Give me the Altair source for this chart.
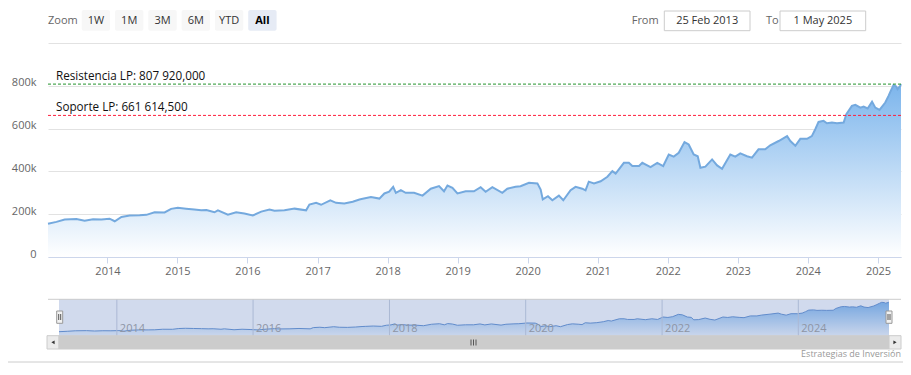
import altair as alt
import pandas as pd

# ---------------- data ----------------
DATES = [
    "2013-02-25", "2013-04-10", "2013-05-23", "2013-07-23", "2013-09-04", "2013-10-18", "2013-11-30",
    "2014-01-12", "2014-02-08", "2014-03-15", "2014-04-27", "2014-06-18", "2014-07-23", "2014-09-04",
    "2014-10-26", "2014-11-29", "2015-01-03", "2015-02-15", "2015-03-30", "2015-05-05", "2015-06-01",
    "2015-07-13", "2015-07-31", "2015-09-21", "2015-11-03", "2015-12-16", "2016-01-29", "2016-03-13",
    "2016-04-25", "2016-05-21", "2016-07-12", "2016-09-03", "2016-11-02", "2016-11-19", "2016-12-24",
    "2017-01-19", "2017-03-08", "2017-04-07", "2017-05-20", "2017-07-03", "2017-08-07", "2017-08-24",
    "2017-10-06", "2017-11-19", "2017-12-15", "2018-01-09", "2018-01-30", "2018-02-13", "2018-03-11",
    "2018-04-05", "2018-05-19", "2018-07-02", "2018-08-14", "2018-09-26", "2018-10-22", "2018-11-09",
    "2018-12-05", "2018-12-31", "2019-02-12", "2019-03-27", "2019-05-01", "2019-05-27", "2019-07-01",
    "2019-08-22", "2019-09-17", "2019-10-30", "2019-11-25", "2020-01-08", "2020-02-21", "2020-03-09",
    "2020-03-20", "2020-04-16", "2020-05-09", "2020-06-12", "2020-07-05", "2020-08-12", "2020-09-07",
    "2020-10-12", "2020-10-29", "2020-11-15", "2020-12-12", "2021-01-16", "2021-02-20", "2021-03-18",
    "2021-04-04", "2021-05-17", "2021-06-12", "2021-06-30", "2021-08-04", "2021-08-21", "2021-10-03",
    "2021-11-07", "2021-12-08", "2022-01-06", "2022-02-01", "2022-02-27", "2022-03-29", "2022-04-20",
    "2022-05-16", "2022-06-06", "2022-06-20", "2022-07-16", "2022-08-20", "2022-09-15", "2022-10-11",
    "2022-11-23", "2022-12-19", "2023-01-14", "2023-02-18", "2023-03-16", "2023-04-19", "2023-05-24",
    "2023-06-19", "2023-08-02", "2023-09-15", "2023-10-02", "2023-10-28", "2023-11-23", "2023-12-28",
    "2024-01-22", "2024-02-09", "2024-02-26", "2024-03-23", "2024-04-10", "2024-05-06", "2024-06-01",
    "2024-07-06", "2024-07-20", "2024-08-18", "2024-09-05", "2024-10-01", "2024-10-18", "2024-11-08",
    "2024-12-01", "2024-12-18", "2025-01-09", "2025-02-08", "2025-02-25", "2025-03-11", "2025-03-23",
    "2025-04-06", "2025-04-13", "2025-04-27", "2025-05-01",
]
VALUES_K = [
    155, 164, 175, 178, 170, 176, 175,
    179, 167, 187, 194, 195, 197, 209,
    208, 225, 230, 226, 222, 218, 220,
    209, 218, 198, 209, 203, 194, 212,
    222, 216, 218, 226, 218, 245, 253,
    244, 265, 253, 250, 258, 269, 272,
    280, 273, 297, 305, 328, 300, 312,
    300, 300, 287, 319, 331, 307, 334,
    323, 297, 307, 307, 326, 305, 326,
    300, 319, 328, 331, 347, 344, 315,
    269, 284, 265, 287, 265, 312, 328,
    319, 311, 352, 344, 354, 375, 401,
    390, 440, 440, 425, 425, 440, 420,
    440, 425, 479, 469, 487, 537, 526,
    479, 471, 417, 422, 456, 428, 412,
    479, 469, 484, 471, 464, 503, 503,
    522, 542, 565, 542, 520, 552, 552,
    565, 597, 631, 636, 625, 628, 625,
    628, 667, 706, 711, 698, 703, 694,
    726, 698, 687, 722, 753, 781, 803,
    797, 784, 800, 808,
]

LEVEL_LABELS = ["Resistencia LP: 807 920,000", "Soporte LP: 661 614,500"]
LEVEL_VALUES = [807920, 661614.5]

Y_TICKS = [0, 200000, 400000, 600000, 800000, 1000000]
X_TICK_YEARS = list(range(2014, 2026))
NAV_YEARS = [2014, 2016, 2018, 2020, 2022, 2024]
BUTTONS = ["1W", "1M", "3M", "6M", "YTD", "All"]
HEADER_TEXTS = ["Zoom", "From", "To"]
INPUT_TEXTS = ["25 Feb 2013", "1 May 2025"]
CREDIT = "Estrategias de Inversión"

# ---------------- layout / style ----------------
W, H = 853, 214
FONT = "Open Sans"
LINE_COLOR = "#74a9de"
NAV_LINE = "#5f8fcf"
LEVEL_COLORS = ["#22922a", "#ff1f3d"]

df = pd.DataFrame({"date": DATES, "value": [v * 1000 for v in VALUES_K]})
levels = pd.DataFrame({"label": LEVEL_LABELS, "value": LEVEL_VALUES})

grad = alt.Gradient(
    gradient="linear",
    stops=[alt.GradientStop(color="#7cb5ec", offset=0),
           alt.GradientStop(color="#ffffff", offset=1)],
    x1=0, x2=0, y1=0, y2=1,
)

x_main = alt.X(
    "date:T", title=None,
    scale=alt.Scale(nice=False),
    axis=alt.Axis(
        values=[alt.DateTime(year=y, month=1, date=1, utc=True) for y in X_TICK_YEARS],
        labelExpr="utcFormat(datum.value, '%Y')",
        grid=False, domainColor="#ccd6eb", tickColor="#ccd6eb", tickSize=6,
        labelPadding=2, labelColor="#666666", labelFontSize=11, labelFont=FONT,
        labelFlush=False, labelOverlap=False,
    ),
)
y_main = alt.Y(
    "value:Q", title=None,
    scale=alt.Scale(domain=[0, 1000000], nice=False),
    axis=alt.Axis(
        values=Y_TICKS,
        labelExpr="datum.value == 0 ? '0' : (datum.value >= 1000000 ? '' : (datum.value/1000) + 'k')",
        grid=True, gridColor="#e2e2e2", domain=False, ticks=False, tickSize=0,
        labelPadding=12, labelBaseline="alphabetic", labelColor="#666666",
        labelFontSize=11, labelFont=FONT, labelFlush=False,
    ),
)

area = alt.Chart(df).mark_area(color=grad).encode(x=x_main, y=y_main)
line = alt.Chart(df).mark_line(color=LINE_COLOR, strokeWidth=2).encode(x=x_main, y=y_main)

rules = []
for i in range(2):
    d = levels.iloc[[i]]
    rules.append(
        alt.Chart(d).mark_rule(color=LEVEL_COLORS[i], strokeDash=[3, 2], strokeWidth=1)
        .encode(y=y_main, x=alt.value(0), x2=alt.value(W))
    )
    rules.append(
        alt.Chart(d).mark_text(align="left", baseline="alphabetic", dy=-4, font=FONT,
                               fontSize=11.7, color="#111111")
        .encode(y=y_main, x=alt.value(8), text="label:N")
    )

main = alt.layer(area, line, *rules)

# ---------------- navigator ----------------
nav_x = alt.X("date:T", scale=alt.Scale(nice=False, range=[11, 841]), axis=None)
nav_y = alt.Y("value:Q", scale=alt.Scale(domain=[60000, 876000], range=[293, 256], nice=False, zero=False), axis=None)
nav_years = pd.DataFrame({"date": [f"{y}-01-01" for y in NAV_YEARS], "label": [str(y) for y in NAV_YEARS]})

nav_area = alt.Chart(df).mark_area(color=grad).encode(x=nav_x, y=nav_y)
nav_line = alt.Chart(df).mark_line(color=NAV_LINE, strokeWidth=1).encode(x=nav_x, y=nav_y)
nav_grid = alt.Chart(nav_years).mark_rule(color="#c8cfdc", strokeWidth=1).encode(
    x=nav_x, y=alt.value(256), y2=alt.value(293))
nav_mask = alt.Chart(pd.DataFrame({"a": [0]})).mark_rect(color="#6685c2", opacity=0.3).encode(
    x=alt.value(11), x2=alt.value(841), y=alt.value(256), y2=alt.value(292.7))
nav_text = alt.Chart(nav_years).mark_text(align="left", baseline="middle", dx=3, font=FONT,
                                          fontSize=11, color="#8e95a5").encode(
    x=nav_x, y=alt.value(286), text="label:N")
nav = alt.layer(nav_area, nav_line, nav_grid, nav_mask, nav_text)

# ---------------- decorations (pixel positions) ----------------
def PX(f):
    return alt.X(f"{f}:Q", scale=None, axis=None)


def PY(f):
    return alt.Y(f"{f}:Q", scale=None, axis=None)


BTN_X1 = [33.7, 67.0, 100.3, 133.6, 166.9, 200.2]
btn = pd.DataFrame({"label": BUTTONS, "x1": BTN_X1})
btn["x2"] = btn["x1"] + 28.4
btn["xc"] = btn["x1"] + 14.2
btn["y1"] = -33.0
btn["y2"] = -12.3
btn["ty"] = -22.3
btn["fill"] = ["#f7f7f7"] * 5 + ["#e6ebf5"]

btn_rect = alt.Chart(btn).mark_rect(cornerRadius=2).encode(
    x=PX("x1"), x2="x2", y=PY("y1"), y2="y2", color=alt.Color("fill:N", scale=None, legend=None))
btn_txt = alt.Chart(btn[btn["label"] != "All"]).mark_text(
    align="center", baseline="middle", font=FONT, fontSize=11, color="#333333").encode(
    x=PX("xc"), y=PY("ty"), text="label:N")
btn_all = alt.Chart(btn[btn["label"] == "All"]).mark_text(
    align="center", baseline="middle", font=FONT, fontSize=11, fontWeight="bold", color="#000000").encode(
    x=PX("xc"), y=PY("ty"), text="label:N")

hdr = pd.DataFrame({"label": HEADER_TEXTS, "x": [0, 583.7, 718], "y": [-22.3] * 3})
hdr_txt = alt.Chart(hdr).mark_text(align="left", baseline="middle", font=FONT, fontSize=11,
                                   color="#666666").encode(x=PX("x"), y=PY("y"), text="label:N")

inp = pd.DataFrame({"label": INPUT_TEXTS, "x1": [616.3, 732.0], "x2": [702.0, 817.7]})
inp["xc"] = (inp["x1"] + inp["x2"]) / 2
inp["y1"] = -32.0
inp["y2"] = -12.3
inp["ty"] = -22.3
inp_rect = alt.Chart(inp).mark_rect(fill="#ffffff", stroke="#cccccc", strokeWidth=1).encode(
    x=PX("x1"), x2="x2", y=PY("y1"), y2="y2")
inp_txt = alt.Chart(inp).mark_text(align="center", baseline="middle", font=FONT, fontSize=11,
                                   color="#333333").encode(x=PX("xc"), y=PY("ty"), text="label:N")

scr = pd.DataFrame({"x1": [-1.0, 11.0, 841.0], "x2": [11.0, 841.0, 853.0],
                    "fill": ["#ebebeb", "#cccccc", "#ebebeb"]})
scr["y1"] = 292.7
scr["y2"] = 306.0
scr_rect = alt.Chart(scr).mark_rect(stroke="#cccccc", strokeWidth=1).encode(
    x=PX("x1"), x2="x2", y=PY("y1"), y2="y2", color=alt.Color("fill:N", scale=None, legend=None))

arr = pd.DataFrame({"x": [5.0, 847.0], "y": [299.3, 299.3], "shape": ["triangle-left", "triangle-right"]})
arr_pt = alt.Chart(arr).mark_point(filled=True, size=14, color="#333333", opacity=1).encode(
    x=PX("x"), y=PY("y"), shape=alt.Shape("shape:N", scale=None, legend=None))

grip = pd.DataFrame({"x": [423.0, 425.5, 428.0, 10.7, 12.7, 840.0, 842.0],
                     "y1": [296.5] * 3 + [271.0] * 4, "y2": [302.5] * 3 + [277.0] * 4})
grip_rule = alt.Chart(grip).mark_rule(color="#555555", strokeWidth=1).encode(
    x=PX("x"), y=PY("y1"), y2="y2")

hnd = pd.DataFrame({"x1": [8.7, 838.0], "x2": [14.7, 844.0], "y1": [268.0, 268.0], "y2": [280.3, 280.3]})
hnd_rect = alt.Chart(hnd).mark_rect(fill="#f2f2f2", stroke="#999999", strokeWidth=1).encode(
    x=PX("x1"), x2="x2", y=PY("y1"), y2="y2")

hl = pd.DataFrame({"x1": [0.0, -40.0], "x2": [853.0, 855.0], "y": [256.3, 319.0]})
hl_rule = alt.Chart(hl).mark_rule(color="#cccccc", strokeWidth=1).encode(x=PX("x1"), x2="x2", y=PY("y"))

cred = pd.DataFrame({"label": [CREDIT], "x": [853.0], "y": [311.0]})
cred_txt = alt.Chart(cred).mark_text(align="right", baseline="middle", font=FONT, fontSize=9,
                                     color="#999999").encode(x=PX("x"), y=PY("y"), text="label:N")

decor = alt.layer(btn_rect, btn_txt, btn_all, hdr_txt, inp_rect, inp_txt, hl_rule, scr_rect,
                  arr_pt, hnd_rect, grip_rule, cred_txt)

chart = (
    alt.layer(main, nav, decor)
    .resolve_scale(x="independent", y="independent")
    .properties(
        width=W, height=H,
        autosize=alt.AutoSizeParams(type="none"),
        padding={"left": 40, "top": 35, "right": 2, "bottom": 110},
        background="#ffffff",
    )
    .configure_view(strokeWidth=0)
)

chart.save("out.html", embed_options={"renderer": "svg", "actions": False})
